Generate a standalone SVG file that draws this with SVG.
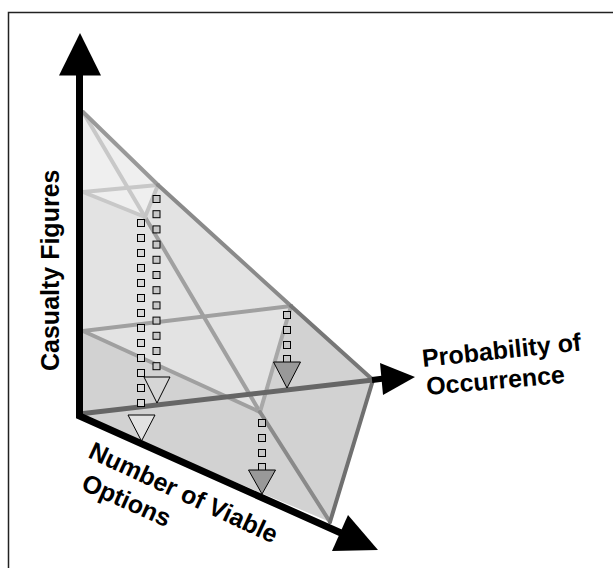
<svg xmlns="http://www.w3.org/2000/svg" width="613" height="568" viewBox="0 0 613 568">
<style>
.lbl{font-family:"Liberation Sans",Arial,sans-serif;font-weight:bold;font-size:25px;fill:#000}
.sq{stroke:#000;stroke-width:1}
.edge{fill:none;stroke-linecap:round;stroke-width:4}
</style>
<defs>
<rect id="sqL" class="sq" x="-3.5" y="-3.5" width="7" height="7" fill="#d8d8d8"/>
<rect id="sqM" class="sq" x="-3.5" y="-3.5" width="7" height="7" fill="#c8c8c8"/>
</defs>
<rect x="8.5" y="12.5" width="700" height="700" fill="#fff" stroke="#222" stroke-width="1.5"/>

<g id="surfaces">
<polygon points="83,112 158,185 291,306 373,380 330,522 79,416" fill="#d2d2d2"/>
<polygon points="83,192 158,185 291,306 260,412 83,331" fill="#e3e3e3"/>
<polygon points="83,112 158,185 145,217 83,192" fill="#efefef"/>
</g>

<g id="connectors">
<line class="edge" x1="83" y1="112" x2="145" y2="217" stroke="#c8c8c8"/>
<line class="edge" x1="145" y1="217" x2="260" y2="412" stroke="#a0a0a0"/>
<line class="edge" x1="83" y1="192" x2="158" y2="185" stroke="#c8c8c8"/>
<line class="edge" x1="83" y1="192" x2="145" y2="217" stroke="#c8c8c8"/>
<line class="edge" x1="158" y1="185" x2="145" y2="217" stroke="#c4c4c4"/>
<line class="edge" x1="83" y1="331" x2="291" y2="306" stroke="#a0a0a0"/>
<line class="edge" x1="83" y1="331" x2="260" y2="412" stroke="#a0a0a0"/>
<line class="edge" x1="291" y1="306" x2="260" y2="412" stroke="#a8a8a8"/>
<line class="edge" x1="260" y1="412" x2="330" y2="522" stroke="#8a8a8a"/>
<line class="edge" x1="83" y1="112" x2="158" y2="185" stroke="#999" stroke-width="3.5"/>
<line class="edge" x1="158" y1="185" x2="291" y2="306" stroke="#8a8a8a"/>
<line class="edge" x1="291" y1="306" x2="373" y2="380" stroke="#777"/>
<line class="edge" x1="373" y1="380" x2="330" y2="522" stroke="#707070"/>
<line x1="79" y1="414" x2="373" y2="380" stroke="#666" stroke-width="5"/>
</g>

<g id="drop-arrows">
<g id="drop-left">
<use href="#sqL" x="141" y="223"/><use href="#sqL" x="141" y="238"/><use href="#sqL" x="141" y="253"/>
<use href="#sqL" x="141" y="268"/><use href="#sqL" x="141" y="283"/><use href="#sqL" x="141" y="298"/>
<use href="#sqL" x="141" y="313"/><use href="#sqL" x="141" y="328"/><use href="#sqL" x="141" y="343"/>
<use href="#sqL" x="141" y="358"/><use href="#sqL" x="141" y="373"/><use href="#sqL" x="141" y="388"/>
<use href="#sqL" x="141" y="403"/>
<polygon points="128,415 155,415 141.5,441" fill="#e2e2e2" stroke="#000" stroke-width="1"/>
</g>
<g id="drop-right">
<use href="#sqM" x="156.5" y="199"/><use href="#sqM" x="156.5" y="214.2"/><use href="#sqM" x="156.5" y="229.4"/>
<use href="#sqM" x="156.5" y="244.6"/><use href="#sqM" x="156.5" y="259.8"/><use href="#sqM" x="156.5" y="275"/>
<use href="#sqM" x="156.5" y="290.2"/><use href="#sqM" x="156.5" y="305.4"/><use href="#sqM" x="156.5" y="320.6"/>
<use href="#sqM" x="156.5" y="335.8"/><use href="#sqM" x="156.5" y="351"/><use href="#sqM" x="156.5" y="366.2"/>
<polygon points="144,377 170,377 157,403" fill="#d6d6d6" stroke="#000" stroke-width="1"/>
</g>
<g id="drop-e">
<use href="#sqM" x="287" y="315"/><use href="#sqM" x="287" y="330"/><use href="#sqM" x="287" y="345"/><use href="#sqM" x="287" y="359"/>
<polygon points="273.5,362 300.5,362 287,388" fill="#999" stroke="#000" stroke-width="1"/>
</g>
<g id="drop-g">
<use href="#sqM" x="262" y="423"/><use href="#sqM" x="262" y="438"/><use href="#sqM" x="262" y="453"/><use href="#sqM" x="262" y="467"/>
<polygon points="248.5,470 275.5,470 262,494" fill="#999" stroke="#000" stroke-width="1"/>
</g>
</g>

<g id="axes">
<polyline points="79.5,75 79.5,416 341,533" fill="none" stroke="#000" stroke-width="7" stroke-linejoin="miter"/>
<polygon points="59,75.5 101,75.5 80,33" fill="#000"/>
<polygon points="348,515 332,551 378,550" fill="#000"/>
<line x1="372" y1="380" x2="384" y2="378.6" stroke="#000" stroke-width="6"/>
<polygon points="380,363 383,395 415,377" fill="#000"/>
</g>

<g id="labels">
<text class="lbl" transform="translate(59,371) rotate(-90)">Casualty Figures</text>
<text class="lbl" transform="translate(423,367) rotate(-6)">Probability of</text>
<text class="lbl" transform="translate(427,395) rotate(-5)">Occurrence</text>
<text class="lbl" transform="translate(87,457) rotate(25)">Number of Viable</text>
<text class="lbl" transform="translate(80,489) rotate(24)">Options</text>
</g>
</svg>
